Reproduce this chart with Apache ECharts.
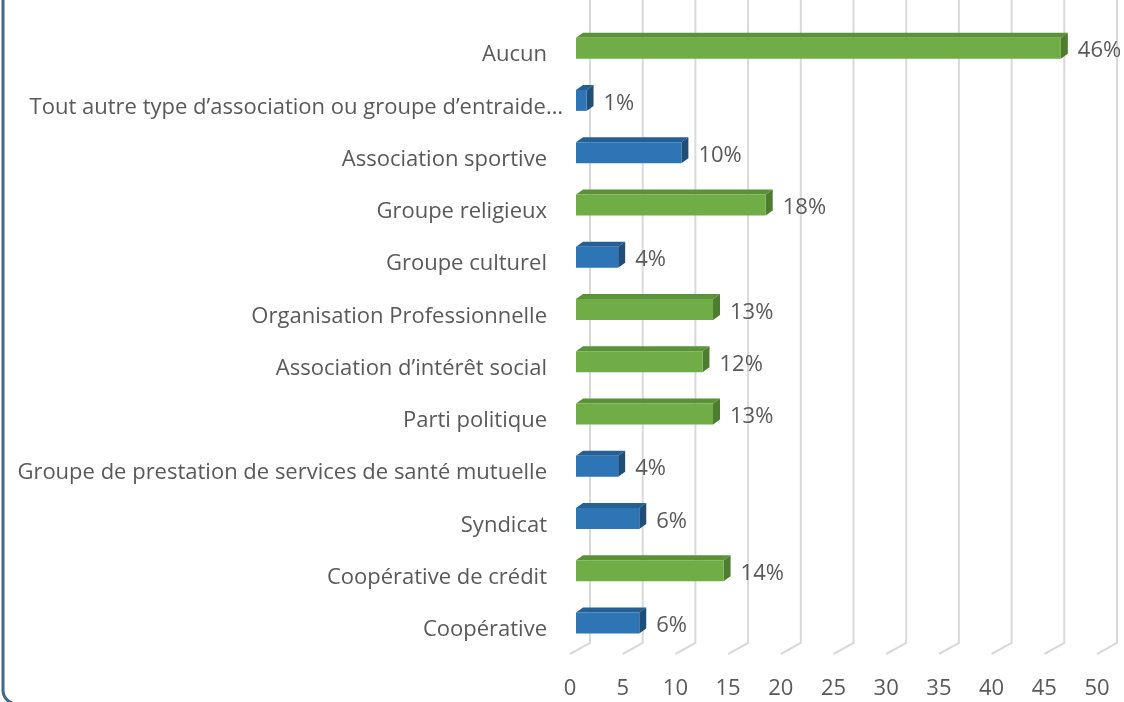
<!DOCTYPE html>
<html>
<head>
<meta charset="utf-8">
<script src="https://cdn.jsdelivr.net/npm/echarts@6/dist/echarts.min.js"></script>
<style>
  html, body { margin: 0; padding: 0; background: #fff; }
  #chart { width: 1124px; height: 702px; }
</style>
</head>
<body>
<div id="chart"></div>
<script>
const CATEGORIES = [
  "Aucun",
  "Tout autre type d’association ou groupe d’entraide…",
  "Association sportive",
  "Groupe religieux",
  "Groupe culturel",
  "Organisation Professionnelle",
  "Association d’intérêt social",
  "Parti politique",
  "Groupe de prestation de services de santé mutuelle",
  "Syndicat",
  "Coopérative de crédit",
  "Coopérative",
];
const VALUES = [46, 1, 10, 18, 4, 13, 12, 13, 4, 6, 14, 6];
const TICKS = [0, 5, 10, 15, 20, 25, 30, 35, 40, 45, 50];

const FONT = "'Open Sans', 'Liberation Sans', sans-serif";
const TEXT = "#595959";
const GREEN = { front: "#70ad47", top: "#5b9238", side: "#4e7d30" };
const BLUE = { front: "#2e75b6", top: "#255f94", side: "#1f4e79" };

// 3D offsets (depth of the bars and of the back wall)
const DX = 7, DY = 5, FACE_H = 21, BAR_SHIFT = 6, BAR_RAISE = 7;
const WALL_DX = 20, WALL_DY = 11;

const chart = echarts.init(document.getElementById("chart"));

function renderGridLine(params, api) {
  const cs = params.coordSys;
  const x = api.coord([api.value(0), 0])[0];
  const bottom = cs.y + cs.height - 2;
  return {
    type: "polyline",
    shape: {
      points: [
        [x + WALL_DX, 0],
        [x + WALL_DX, bottom - WALL_DY],
        [x, bottom],
      ],
    },
    style: { stroke: "#d9d9d9", lineWidth: 2, fill: null },
    silent: true,
  };
}

function renderBar(params, api) {
  const v = api.value(0);
  const idx = api.value(1);
  const [x1raw, yc] = api.coord([v, idx]);
  const x0 = api.coord([0, idx])[0] + BAR_SHIFT;
  const x1 = x1raw + BAR_SHIFT;
  const yt = yc - BAR_RAISE - FACE_H / 2;
  const yb = yt + FACE_H;
  const c = v > 10 ? GREEN : BLUE;
  return {
    type: "group",
    children: [
      { type: "polygon", shape: { points: [[x0, yt], [x1, yt], [x1 + DX, yt - DY], [x0 + DX, yt - DY]] },
        style: { fill: c.top } },
      { type: "polygon", shape: { points: [[x1, yt], [x1 + DX, yt - DY], [x1 + DX, yb - DY], [x1, yb]] },
        style: { fill: c.side } },
      { type: "rect", shape: { x: x0, y: yt, width: x1 - x0, height: FACE_H },
        style: { fill: c.front } },
      { type: "text",
        style: { text: v + "%", x: x1 + DX + 10, y: yc - 4, verticalAlign: "middle",
                 fill: TEXT, font: "22px " + FONT } },
    ],
  };
}

chart.setOption({
  animation: false,
  grid: { left: 570, right: 27, top: 29, bottom: 46 },
  xAxis: {
    type: "value",
    min: 0,
    max: 50,
    interval: 5,
    splitLine: { show: false },
    axisLine: { show: false },
    axisTick: { show: false },
    axisLabel: { color: TEXT, fontSize: 22, fontFamily: FONT, margin: 22 },
  },
  yAxis: {
    type: "category",
    inverse: true,
    data: CATEGORIES.map((c, i) => i === 1
      ? { value: c, textStyle: { padding: [0, -16, 0, 0] } }
      : c),
    axisLine: { show: false },
    axisTick: { show: false },
    axisLabel: { color: TEXT, fontSize: 22, fontFamily: FONT, margin: 23 },
  },
  graphic: [{
    type: "rect",
    shape: { x: 3, y: -30, width: 1300, height: 734, r: 14 },
    style: { fill: null, stroke: "#41698c", lineWidth: 3 },
    silent: true,
  }],
  series: [
    {
      type: "custom",
      renderItem: renderGridLine,
      data: TICKS.map(t => [t, 0]),
      encode: { x: 0, y: 1 },
      z: 1,
    },
    {
      type: "custom",
      renderItem: renderBar,
      data: VALUES.map((v, i) => [v, i]),
      encode: { x: 0, y: 1 },
      z: 2,
    },
  ],
});
</script>
</body>
</html>
